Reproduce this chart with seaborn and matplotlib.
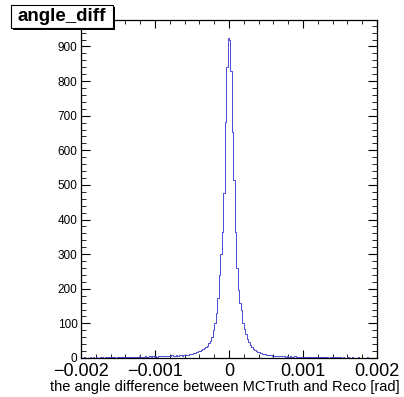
import numpy as np
import pandas as pd
import matplotlib
matplotlib.use("Agg")
import matplotlib.pyplot as plt
from matplotlib.patches import Rectangle
from matplotlib.ticker import MultipleLocator
import seaborn as sns

# ---- data (200 bins from -0.002 to 0.002) ----
x_min, x_max, n_bins = -0.002, 0.002, 200
counts_left_tail = [1, 0, 2, 1, 1, 0, 2, 1, 3, 1,
                    2, 1, 1, 3, 2, 1, 2, 2, 1, 3,
                    2, 2, 3, 1, 2, 3, 2, 2, 4, 2,
                    3, 2, 4, 3, 2, 3, 4, 3, 3, 5,
                    3, 4, 3, 5, 4, 3, 5, 4, 6, 4,
                    5, 4, 6, 5, 5, 7, 5, 6, 6, 7,
                    6, 8, 7, 6, 8, 7, 9, 8, 7, 8]
counts_left_core = [9, 10, 10, 11, 12, 13, 14, 15, 17, 19,
                    21, 23, 25, 28, 31, 36, 42, 50, 62, 80,
                    100, 130, 172, 239, 300, 365, 477, 681, 841, 925]
counts_right_core = [920, 830, 653, 515, 365, 260, 196, 160, 138, 100,
                     85, 68, 55, 45, 38, 32, 27, 23, 20, 18,
                     16, 14, 13, 12, 11, 10, 9, 9, 8, 7,
                     7, 6, 6, 5]
counts_right_tail = [6, 5, 6, 5, 4, 5, 4, 5, 3, 4,
                     5, 3, 4, 3, 4, 2, 3, 4, 2, 3,
                     3, 2, 4, 2, 3, 2, 1, 3, 2, 2,
                     1, 3, 2, 1, 2, 2, 1, 3, 1, 2,
                     1, 2, 0, 2, 1, 1, 2, 0, 1, 2,
                     1, 1, 0, 2, 1, 0, 1, 1, 0, 2,
                     1, 0, 1, 1, 0, 1]
counts = np.array(counts_left_tail + counts_left_core + counts_right_core + counts_right_tail, dtype=float)

title_text = "angle_diff"
x_label = "the angle difference between MCTruth and Reco [rad]"
x_ticks = [-0.002, -0.001, 0, 0.001, 0.002]
x_ticklabels = ["\u22120.002", "\u22120.001", "0", "0.001", "0.002"]
y_ticks = list(range(0, 1000, 100))

edges = np.linspace(x_min, x_max, n_bins + 1)
centers = 0.5 * (edges[:-1] + edges[1:])
df = pd.DataFrame({"angle": centers, "count": counts})

sns.set_style("ticks")
plt.rcParams["font.family"] = ["Liberation Sans", "DejaVu Sans"]

W, H = 404, 397
fig = plt.figure(figsize=(W / 100, H / 100), dpi=100)
ax = fig.add_axes([81 / W, 1 - 358 / H, 296 / W, 338 / H])

sns.histplot(data=df, x="angle", weights="count", bins=n_bins, binrange=(x_min, x_max),
             element="step", fill=False, color="#4b4bd6", linewidth=0.7, ax=ax, legend=False)

ax.set_xlim(x_min, x_max)
ax.set_ylim(0, 338 * 900 / (358 - 46.5))
ax.set_xticks(x_ticks)
ax.set_xticklabels(x_ticklabels)
ax.set_yticks(y_ticks)
ax.xaxis.set_minor_locator(MultipleLocator(0.0002))
ax.yaxis.set_minor_locator(MultipleLocator(20))
ax.set_xlabel("")
ax.set_ylabel("")

for s in ax.spines.values():
    s.set_color("black")
    s.set_linewidth(0.9)

ax.tick_params(axis="x", which="major", direction="in", length=6, width=0.8,
               top=True, bottom=True, labelsize=13, pad=3.8, colors="black")
ax.tick_params(axis="x", which="minor", direction="in", length=3, width=0.7,
               top=True, bottom=True)
ax.tick_params(axis="y", which="major", direction="in", length=6.5, width=0.8,
               left=True, right=True, labelsize=8.5, pad=2.5, colors="black")
ax.tick_params(axis="y", which="minor", direction="in", length=3.3, width=0.7,
               left=True, right=True)

# x axis title (right aligned, ROOT style)
fig.text(400 / W, 1 - 391 / H, x_label, ha="right", va="baseline", fontsize=10.5, color="black")

# title box with shadow
bx0, bx1, by0, by1 = 11, 113, 5, 28
fig.patches.append(Rectangle((bx0 / W + 2 / W, 1 - (by1 + 2) / H), (bx1 - bx0) / W, (by1 - by0) / H,
                             transform=fig.transFigure, facecolor="black", edgecolor="black",
                             linewidth=0, zorder=5))
fig.patches.append(Rectangle((bx0 / W, 1 - by1 / H), (bx1 - bx0) / W, (by1 - by0) / H,
                             transform=fig.transFigure, facecolor="white", edgecolor="black",
                             linewidth=0.8, zorder=6))
fig.text((bx0 + bx1) / 2 / W, 1 - (by0 + by1) / 2 / H, title_text, ha="center", va="center",
         fontsize=13.5, fontweight="bold", color="black", zorder=7)

fig.savefig("out.png", dpi=100, facecolor="white")
